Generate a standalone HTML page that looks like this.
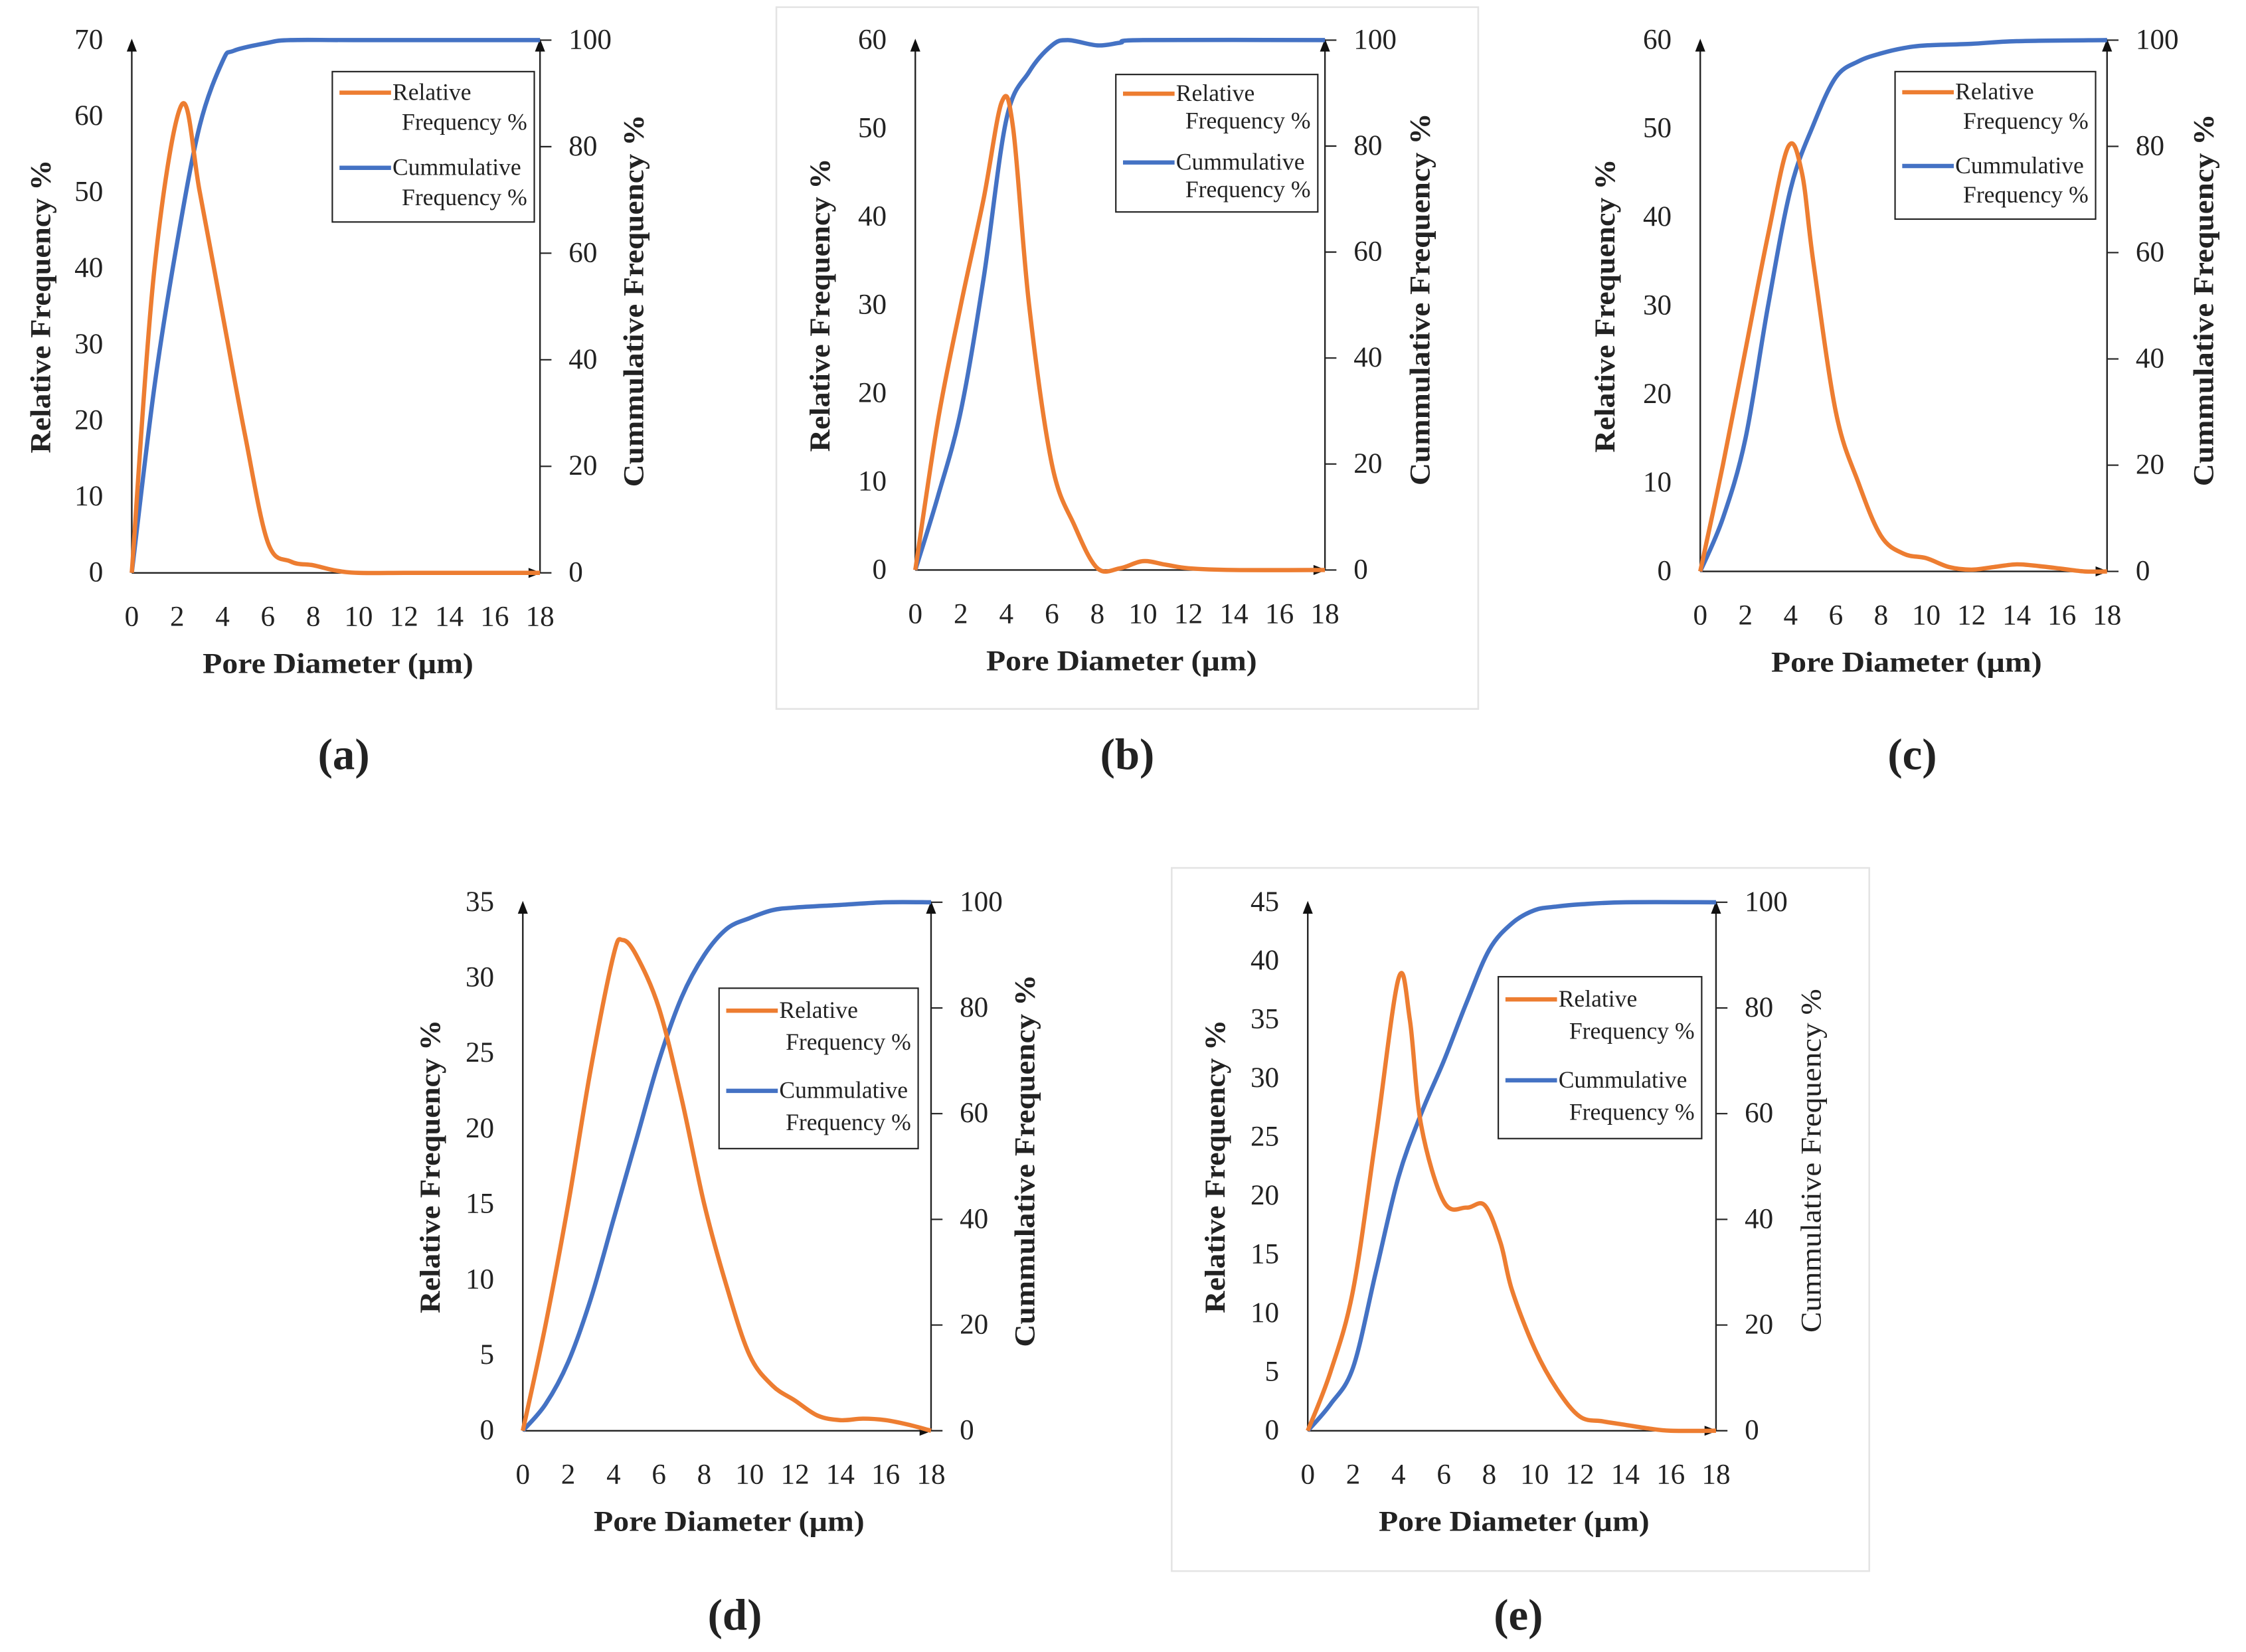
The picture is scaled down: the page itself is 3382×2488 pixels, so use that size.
<!DOCTYPE html>
<html><head><meta charset="utf-8">
<style>
html,body{margin:0;padding:0;background:#fff;}
svg{display:block;}
text{font-family:"Liberation Serif",serif;fill:#222;}
</style></head>
<body>
<svg id="fig" width="3382" height="2488" viewBox="0 0 1568 1153.5" preserveAspectRatio="none" xmlns="http://www.w3.org/2000/svg">
<rect x="542" y="5" width="490" height="490" fill="none" stroke="#e4e4e4" stroke-width="1.2"/>
<rect x="818" y="606" width="487" height="491" fill="none" stroke="#e4e4e4" stroke-width="1.2"/>
</svg>
<script>
// x tick labels (µm)
const xTicks = [0,2,4,6,8,10,12,14,16,18];
const cumTicks = [0,20,40,60,80,100];
// Panel (a)
const aRelX = [0,1,2.2,3,4,5,6,7,8,9,10,12,14,16,18];
const aRelY = [0,40,61.5,50,34,18,4,1.5,1,0.3,0,0,0,0,0];
const aCumX = [0,1,2,3,4,4.5,6,7,10,18];
const aCumY = [0,35,62,84,96,98,99.5,100,100,100];
// Panel (b)
const bRelX = [0,1,2,3,3.8,4.3,5,6,7,8,9,10,11,12,14,18];
const bRelY = [0,17,30,42,53,50,30,12,5,0.2,0.2,1,0.6,0.2,0,0];
const bCumX = [0,1,2,3,4,5,6,6.7,8,9,10,18];
const bCumY = [0,14,30,55,85,94,99,100,99,99.5,100,100];
// Panel (c)
const cRelX = [0,1,2,3,3.9,4.5,5,6,7,8,9,10,11,12,13,14,15,16,17,18];
const cRelY = [0,12,25,38,48,45,35,18,10,4,2,1.5,0.5,0.2,0.5,0.8,0.6,0.3,0,0];
const cCumX = [0,1,2,3,4,5,6,7,8,9,10,12,14,18];
const cCumY = [0,10,25,50,72,84,93,96,97.5,98.5,99,99.3,99.8,100];
// Panel (d)
const dRelX = [0,1,2,3,4,4.4,5,6,7,8,9,10,11,12,13,14,15,16,17,18];
const dRelY = [0,7,15,24,31.5,32.5,31.5,28,22,15,9.5,5,3,2,1,0.7,0.8,0.7,0.4,0];
const dCumX = [0,1,2,3,4,5,6,7,8,9,10,11,12,14,16,18];
const dCumY = [0,5,13,25,40,55,70,82,90,95,97,98.5,99,99.5,100,100];
// Panel (e)
const eRelX = [0,1,2,3,4,4.5,5,6,7,7.8,8.5,9,10,11,12,13,14,15,16,18];
const eRelY = [0,5,12,25,38.5,35,26,19.5,19,19.2,16,12,7,3.5,1.2,0.8,0.5,0.2,0,0];
const eCumX = [0,1,2,3,4,5,6,7,8,9,10,11,12,14,18];
const eCumY = [0,5,12,30,48,60,70,81,91,96,98.5,99.2,99.6,100,100];

const panels = [
 {id:'a',L:92,R:377,T:28,B:400,max:70,step:10,relX:aRelX,relY:aRelY,cumX:aCumX,cumY:aCumY,leg:[232,50,141,105],title:236,lab:[240,527],lt:35,rt:449,cumBold:true},
 {id:'b',L:639,R:925,T:28,B:398,max:60,step:10,relX:bRelX,relY:bRelY,cumX:bCumX,cumY:bCumY,leg:[779,52,141,96],title:783,lab:[787,527],lt:579,rt:998,cumBold:true},
 {id:'c',L:1187,R:1471,T:28,B:399,max:60,step:10,relX:cRelX,relY:cRelY,cumX:cCumX,cumY:cCumY,leg:[1323,50,140,103],title:1331,lab:[1335,527],lt:1127,rt:1545,cumBold:true},
 {id:'d',L:365,R:650,T:630,B:999,max:35,step:5,relX:dRelX,relY:dRelY,cumX:dCumX,cumY:dCumY,leg:[502,690,139,112],title:509,lab:[513,1128],lt:307,rt:722,cumBold:true},
 {id:'e',L:913,R:1198,T:630,B:999,max:45,step:5,relX:eRelX,relY:eRelY,cumX:eCumX,cumY:eCumY,leg:[1046,682,142,113],title:1057,lab:[1060,1128],lt:855,rt:1271,cumBold:false}
];
const NS='http://www.w3.org/2000/svg';
const svg=document.getElementById('fig');
function mk(tag,attrs,parent){const e=document.createElementNS(NS,tag);for(const k in attrs)e.setAttribute(k,attrs[k]);(parent||svg).appendChild(e);return e;}
function smooth(pts){let d='M'+pts[0][0]+','+pts[0][1];for(let i=0;i<pts.length-1;i++){const p0=pts[i-1]||pts[i],p1=pts[i],p2=pts[i+1],p3=pts[i+2]||p2;const c1=[p1[0]+(p2[0]-p0[0])/6,p1[1]+(p2[1]-p0[1])/6];const c2=[p2[0]-(p3[0]-p1[0])/6,p2[1]-(p3[1]-p1[1])/6];d+=' C'+c1[0]+','+c1[1]+' '+c2[0]+','+c2[1]+' '+p2[0]+','+p2[1];}return d;}
panels.forEach(p=>{
 const g=mk('g',{});
 
 
 const sx=v=>p.L+(p.R-p.L)*v/18;
 const syL=v=>p.B-(p.B-p.T)*v/p.max;
 const syR=v=>p.B-(p.B-p.T)*v/100;
 const ax=mk('path',{d:`M${p.L},${p.B} V${p.T+6} M${p.R},${p.B} V${p.T+6} M${p.L},${p.B} H${p.R-6}`,stroke:'#222','stroke-width':1.1,fill:'none'},g);
 
 
 mk('path',{d:`M${p.L-3.5},${p.T+8} L${p.L},${p.T-1} L${p.L+3.5},${p.T+8}Z M${p.R-3.5},${p.T+8} L${p.R},${p.T-1} L${p.R+3.5},${p.T+8}Z M${p.R-8},${p.B-3.5} L${p.R+1},${p.B} L${p.R-8},${p.B+3.5}Z`,fill:'#111'},g);
 for(let v=0;v<=p.max;v+=p.step){const t=mk('text',{x:p.L-20,y:syL(v)+6,'text-anchor':'end','font-size':20},g);t.textContent=v;
  
  }
 cumTicks.forEach(v=>{mk('line',{x1:p.R,x2:p.R+8,y1:syR(v),y2:syR(v),stroke:'#222','stroke-width':1},g);const t=mk('text',{x:p.R+20,y:syR(v)+6,'font-size':20},g);t.textContent=v;
  
  });
 xTicks.forEach(v=>{const t=mk('text',{x:sx(v),y:p.B+37,'text-anchor':'middle','font-size':20},g);t.textContent=v;
  
  });
 const xt=mk('text',{x:p.title,y:p.B+70,'text-anchor':'middle','font-size':20,'font-weight':'bold',textLength:189,lengthAdjust:'spacingAndGlyphs'},g);xt.textContent='Pore Diameter (µm)';
 
 
 const cy=(p.T+p.B)/2;
 const yt=mk('text',{x:0,y:0,'text-anchor':'middle','font-size':20,'font-weight':'bold',textLength:205,lengthAdjust:'spacingAndGlyphs',transform:`translate(${p.lt},${cy}) rotate(-90)`},g);yt.textContent='Relative Frequency %';
 
 
 const rt=mk('text',{x:0,y:0,'text-anchor':'middle','font-size':20,'font-weight':p.cumBold?'bold':'normal',textLength:p.cumBold?260:240,lengthAdjust:'spacingAndGlyphs',transform:`translate(${p.rt},${cy-4}) rotate(-90)`},g);rt.textContent='Cummulative Frequency %';
 
 
 const cum=mk('path',{d:smooth(p.cumX.map((x,i)=>[sx(x),syR(p.cumY[i])])),stroke:'#4472C4','stroke-width':3,fill:'none','stroke-linejoin':'round'},g);
 
 
 const rel=mk('path',{d:smooth(p.relX.map((x,i)=>[sx(x),syL(p.relY[i])])),stroke:'#ED7D31','stroke-width':3,fill:'none','stroke-linejoin':'round'},g);
 
 
 const [lx,ly,lw,lh]=p.leg;
 const lg=mk('g',{},g);
 
 
 mk('rect',{x:lx,y:ly,width:lw,height:lh,fill:'#fff',stroke:'#222','stroke-width':1},lg);
 mk('line',{x1:lx+5,x2:lx+41,y1:ly+lh*0.14,y2:ly+lh*0.14,stroke:'#ED7D31','stroke-width':3},lg);
 mk('line',{x1:lx+5,x2:lx+41,y1:ly+lh*0.64,y2:ly+lh*0.64,stroke:'#4472C4','stroke-width':3},lg);
 [['Relative',0.14,'start',lx+42],['Frequency %',0.34,'end',lx+lw-5],['Cummulative',0.64,'start',lx+42],['Frequency %',0.84,'end',lx+lw-5]].forEach(([s,k,a,x])=>{const t=mk('text',{x:x,y:ly+lh*k+5,'font-size':16.5,'text-anchor':a},lg);t.textContent=s;});
 const pl=mk('text',{x:p.lab[0],y:p.lab[1]+10,'text-anchor':'middle','font-size':31,'font-weight':'bold'},g);pl.textContent='('+p.id+')';
 
 
});
</script>
</body></html>
